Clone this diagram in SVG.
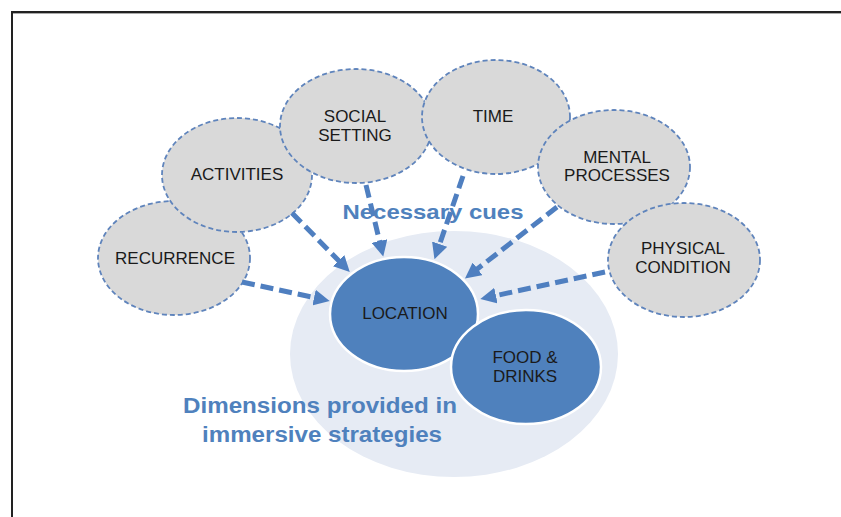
<svg xmlns="http://www.w3.org/2000/svg" width="841" height="517" viewBox="0 0 841 517">
<style>
.cue{fill:#D9D9D9;stroke:#5F84BC;stroke-width:1.8;stroke-dasharray:5 3}
.dim{fill:#4F81BD;stroke:#FFFFFF;stroke-width:2.5}
.lbl{font-family:"Liberation Sans",Arial,sans-serif;font-size:17px;fill:#1A1A1A;text-anchor:middle}
.big{font-family:"Liberation Sans",Arial,sans-serif;font-weight:bold;fill:#4F81BD;text-anchor:middle}
.arr{stroke:#4F7FC0;stroke-width:5;stroke-dasharray:13 6;fill:none;marker-end:url(#ah)}
</style>
<defs>
<marker id="ah" markerUnits="userSpaceOnUse" markerWidth="16" markerHeight="16" viewBox="0 0 16 16" refX="2" refY="8" orient="auto">
<path d="M0,0 L16,8 L0,16 Z" fill="#4F7FC0"/>
</marker>
</defs>
<rect width="841" height="517" fill="#FFFFFF"/>
<path d="M12,517 L12,12 L841,12" fill="none" stroke="#222" stroke-width="2"/>
<path d="M13,13.5 L841,13.5" fill="none" stroke="#AAA" stroke-width="1"/>
<g id="dimensions-area">
<ellipse cx="454" cy="354" rx="164" ry="123" fill="#E6EBF4"/>
</g>
<g id="recurrence"><ellipse class="cue" cx="174" cy="258" rx="76" ry="57"/><text class="lbl" x="175" y="264">RECURRENCE</text></g>
<g id="activities"><ellipse class="cue" cx="237" cy="175" rx="75" ry="57"/><text class="lbl" x="237" y="180">ACTIVITIES</text></g>
<g id="social-setting"><ellipse class="cue" cx="356" cy="126" rx="76" ry="57"/><text class="lbl" x="355" y="122">SOCIAL</text><text class="lbl" x="355" y="141">SETTING</text></g>
<g id="time"><ellipse class="cue" cx="496" cy="117" rx="74" ry="57"/><text class="lbl" x="493" y="122">TIME</text></g>
<g id="mental-processes"><ellipse class="cue" cx="614" cy="167" rx="76" ry="57"/><text class="lbl" x="617" y="163">MENTAL</text><text class="lbl" x="617" y="181">PROCESSES</text></g>
<g id="physical-condition"><ellipse class="cue" cx="684" cy="260" rx="76" ry="57"/><text class="lbl" x="683" y="254">PHYSICAL</text><text class="lbl" x="683" y="273">CONDITION</text></g>
<g id="location"><ellipse class="dim" cx="404" cy="314" rx="74" ry="57"/><text class="lbl" x="405" y="319">LOCATION</text></g>
<g id="food-drinks"><ellipse class="dim" cx="526" cy="367" rx="75" ry="57"/><text class="lbl" x="525" y="363">FOOD &amp;</text><text class="lbl" x="525" y="382">DRINKS</text></g>
<g id="connectors">
<line class="arr" x1="242" y1="282" x2="316" y2="298"/>
<line class="arr" x1="292" y1="213" x2="340" y2="262"/>
<line class="arr" x1="366" y1="185" x2="380" y2="243"/>
<line class="arr" x1="463" y1="176" x2="439" y2="246"/>
<line class="arr" x1="557" y1="207" x2="476" y2="270"/>
<line class="arr" x1="605" y1="272" x2="494" y2="296"/>
</g>
<text class="big" x="433" y="219" font-size="21" textLength="181" lengthAdjust="spacingAndGlyphs">Necessary cues</text>
<text class="big" x="320" y="413" font-size="22.5" textLength="274" lengthAdjust="spacingAndGlyphs">Dimensions provided in</text>
<text class="big" x="322" y="442" font-size="22.5" textLength="240" lengthAdjust="spacingAndGlyphs">immersive strategies</text>
</svg>
